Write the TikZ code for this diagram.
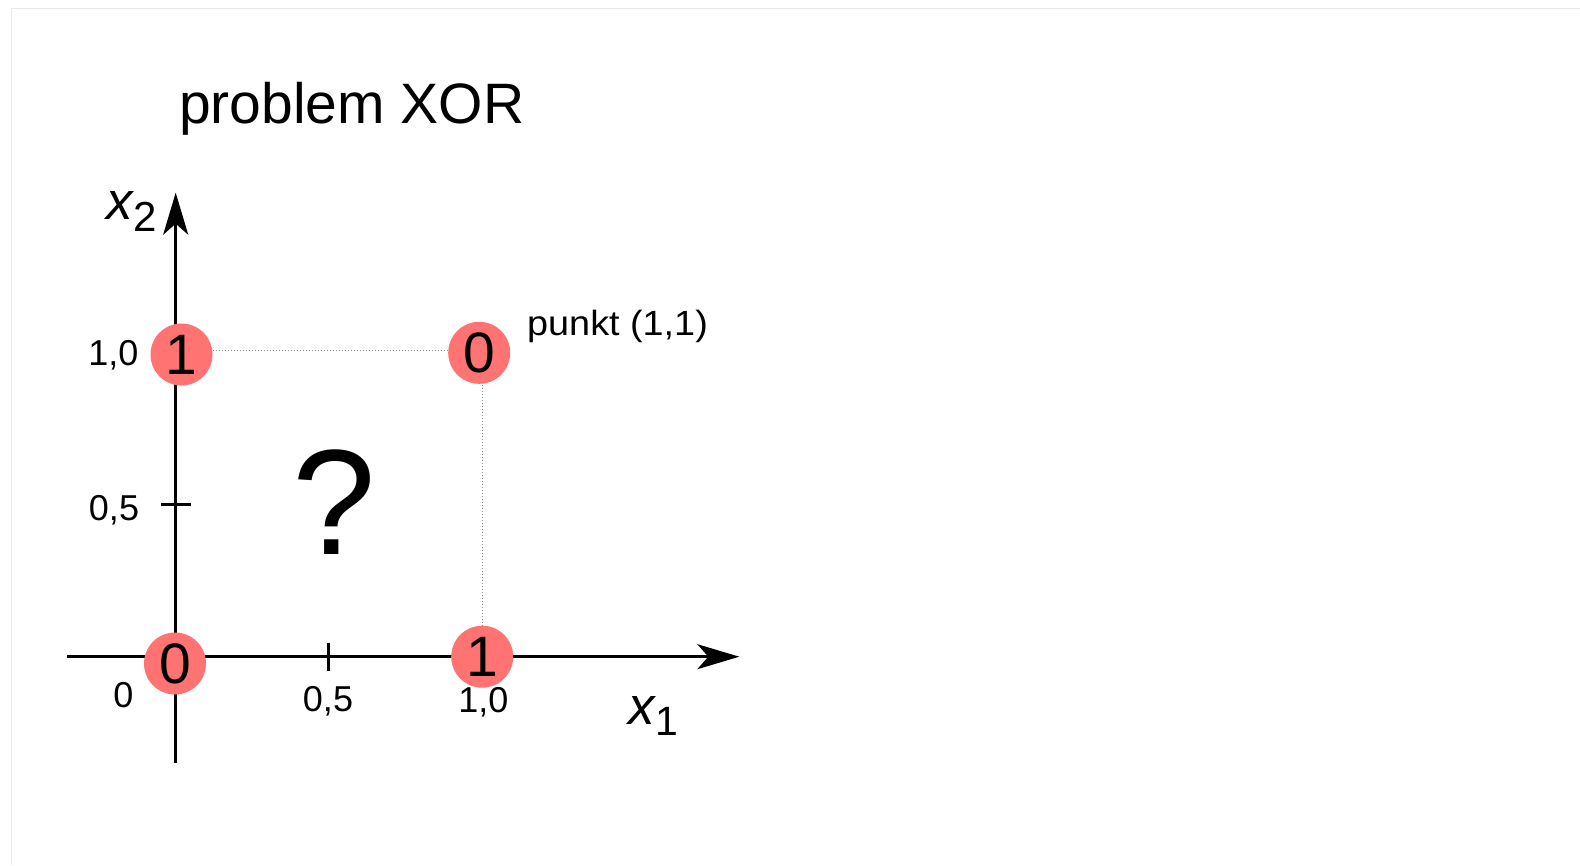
\documentclass[tikz,border=0pt]{standalone}
\usepackage{fontspec}
\setmainfont{Liberation Sans}
\usetikzlibrary{arrows.meta,backgrounds}
\definecolor{dotred}{RGB}{255,115,115}
\definecolor{framegray}{RGB}{234,234,234}
\definecolor{guidegray}{RGB}{140,140,140}
\newcommand\fsz[1]{\fontsize{#1}{#1}\selectfont}
\begin{document}
\begin{tikzpicture}[x=1pt,y=-1pt,
  axisline/.style={line width=2.5pt,-{Stealth[length=42pt,width=25pt,inset=11pt]}},
  tickline/.style={line width=2.5pt},
  guide/.style={guidegray,line width=1pt,dotted},
  ptnode/.style={circle,fill=dotred,minimum size=62pt,inner sep=0pt,font=\fsz{57}},
  lbl/.style={inner sep=0pt,anchor=base,font=\fsz{36}}]
\useasboundingbox (0,0) rectangle (1580,865);

% title
\node[anchor=base west,inner sep=0pt] (title) at (179,123.3) {\fsz{57}problem XOR};

% points
\node[ptnode] (c00) at (175,663.5) {0};
\node[ptnode] (c10) at (181.5,354.5) {1};
\node[ptnode] (c11) at (479.2,352.8) {0};
\node[ptnode] (c01) at (482.2,656.7) {1};

% axis ends
\coordinate (xs) at (67.3,656.7);
\coordinate (xe) at (739.3,656.7);
\coordinate (ys) at (175.7,762.7);
\coordinate (ye) at (175.7,192.7);
\coordinate (xt1) at (328.3,642.7);
\coordinate (xt2) at (328.3,670.7);
\coordinate (yt1) at (161,504.3);
\coordinate (yt2) at (190.7,504.3);

% labels
\node[anchor=base west,inner sep=0pt] (x2) at (106,219) {\fsz{53}\itshape x\kern1pt\raisebox{-12.7pt}{\fsz{42}\upshape 2}};
\node[anchor=base west,inner sep=0pt] (x1) at (628,724) {\fsz{53}\itshape x\kern0.5pt\raisebox{-11pt}{\fsz{41}\upshape 1}};
\node[lbl] (t10) at (113.3,365) {1,0};
\node[lbl] (t05) at (114,520) {0,5};
\node[lbl] (t0) at (123.5,707.3) {0};
\node[lbl] (b05) at (328,711.7) {0,5};
\node[lbl] (b10) at (483.3,712.5) {1,0};
\node[anchor=base west,inner sep=0pt] (pk) at (527,335) {\scalebox{1.08}[1]{\fsz{35}punkt (1,1)}};
\node[inner sep=0pt] (q) at (334,502.5) {\fsz{150}?};

\begin{scope}[on background layer]
  \fill[white] (0,0) rectangle (1580,865);
  \draw[framegray,line width=1pt] (1580,8.5) -- (11.5,8.5) -- (11.5,865);
  \draw[axisline] (xs) -- (xe);
  \draw[axisline] (ys) -- (ye);
  \draw[tickline] (xt1) -- (xt2);
  \draw[tickline] (yt1) -- (yt2);
  \draw[guide] ([yshift=3.8pt]c10.east) -- ([yshift=3.8pt]c10.east -| c11.west);
  \draw[guide] (c01.north) -- (c01.north |- c11.south);
\end{scope}
\end{tikzpicture}
\end{document}
